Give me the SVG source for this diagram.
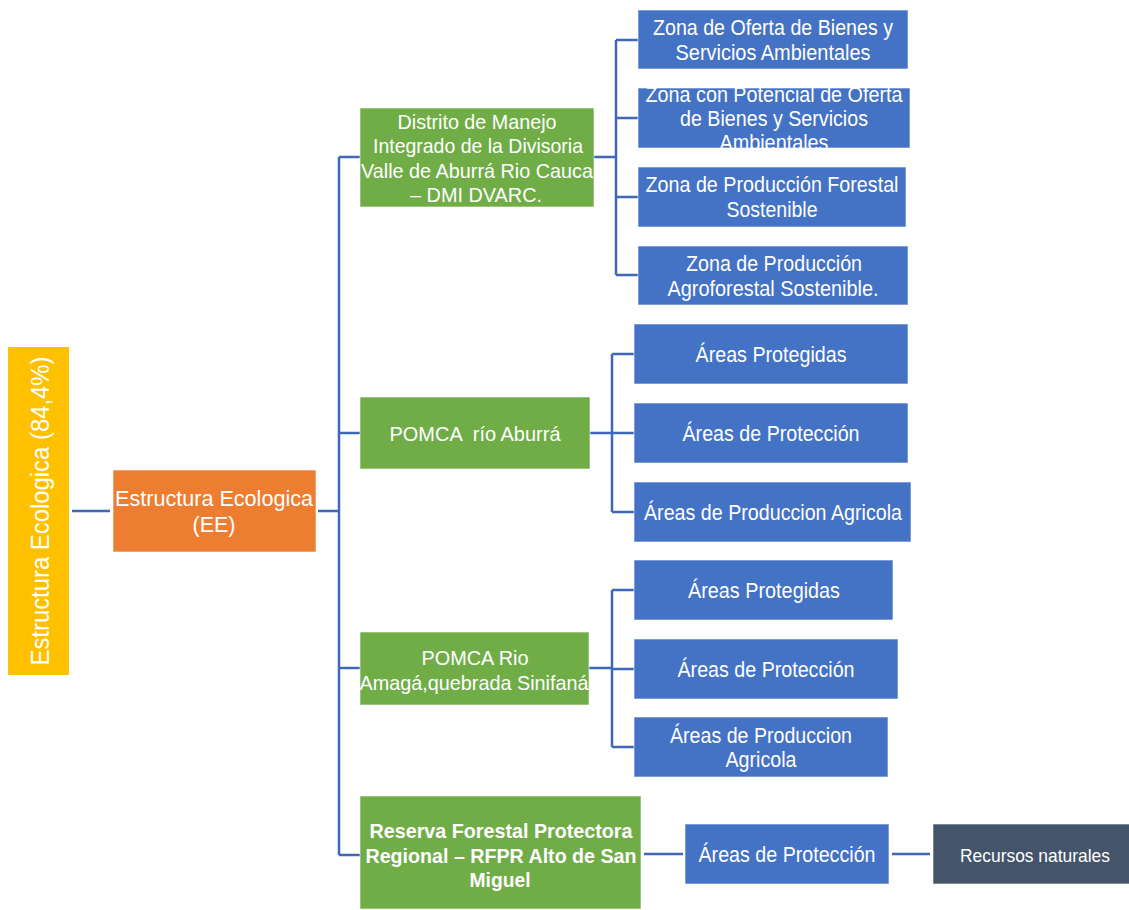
<svg xmlns="http://www.w3.org/2000/svg" width="1129" height="910" viewBox="0 0 1129 910">
  <style>
    .t { font-family: "Liberation Sans", Arial, sans-serif; fill: #ffffff; text-anchor: middle; dominant-baseline: central; }
    .s20 { font-size: 21px; }
    .s22 { font-size: 22px; }
    .b { font-weight: bold; }
    .box { stroke: #ffffff; stroke-opacity: 0.6; stroke-width: 1; }
    .yellow { fill: #FFC000; }
    .orange { fill: #ED7D31; }
    .green { fill: #70AD47; }
    .blue { fill: #4472C4; }
    .slate { fill: #44546A; }
    .link { fill: none; stroke: #4068B8; stroke-width: 2.5; }
  </style>
  <defs>
    <clipPath id="clip-zona-potencial">
      <rect x="638" y="88" width="272" height="60"/>
    </clipPath>
  </defs>
  <rect width="1129" height="910" fill="#ffffff"/>

  <!-- connectors -->
  <g id="connectors">
    <path class="link" d="M72 511 H110"/>
    <path class="link" d="M318 511 H339 M339 157 V855 M339 157 H360 M339 433 H360 M339 668 H360 M339 855 H360"/>
    <path class="link" d="M594 157 H616 M616 40 V275 M616 40 H638 M616 118 H638 M616 197 H638 M616 275 H638"/>
    <path class="link" d="M590 433 H612 M612 354 V512 M612 354 H634 M612 433 H634 M612 512 H634"/>
    <path class="link" d="M589 668 H612 M612 590 V747 M612 590 H634 M612 669 H634 M612 747 H634"/>
    <path class="link" d="M644 854 H683 M892 854 H930"/>
  </g>

  <!-- root -->
  <g id="node-root">
    <rect class="yellow" x="8" y="347" width="61" height="328"/>
    <text class="t" font-size="26" transform="translate(40 511) rotate(-90)" textLength="309" lengthAdjust="spacingAndGlyphs">Estructura Ecologica (84,4%)</text>
  </g>

  <g id="node-ee">
    <rect class="orange box" x="113" y="470" width="203" height="82"/>
    <text class="t s22" x="214" y="498" textLength="198" lengthAdjust="spacingAndGlyphs">Estructura Ecologica</text>
    <text class="t s22" x="214" y="524" textLength="43" lengthAdjust="spacingAndGlyphs">(EE)</text>
  </g>

  <!-- second level -->
  <g id="node-dmi">
    <rect class="green box" x="360" y="108" width="234" height="99"/>
    <text class="t s20" x="477" y="121" textLength="159" lengthAdjust="spacingAndGlyphs">Distrito de Manejo</text>
    <text class="t s20" x="478" y="145" textLength="210" lengthAdjust="spacingAndGlyphs">Integrado de la Divisoria</text>
    <text class="t s20" x="477" y="170" textLength="232" lengthAdjust="spacingAndGlyphs">Valle de Aburrá Rio Cauca</text>
    <text class="t s20" x="476" y="194" textLength="132" lengthAdjust="spacingAndGlyphs">– DMI DVARC.</text>
  </g>

  <g id="node-pomca-aburra">
    <rect class="green box" x="360" y="397" width="230" height="72"/>
    <text class="t s20" x="475" y="433" xml:space="preserve" textLength="171" lengthAdjust="spacingAndGlyphs">POMCA  río Aburrá</text>
  </g>

  <g id="node-pomca-amaga">
    <rect class="green box" x="360" y="632" width="229" height="73"/>
    <text class="t s20" x="475" y="657" textLength="107" lengthAdjust="spacingAndGlyphs">POMCA Rio</text>
    <text class="t s20" x="474" y="682" textLength="229" lengthAdjust="spacingAndGlyphs">Amagá,quebrada Sinifaná</text>
  </g>

  <g id="node-rfpr">
    <rect class="green box" x="360" y="796" width="281" height="113"/>
    <text class="t s20 b" x="501" y="830" textLength="263" lengthAdjust="spacingAndGlyphs">Reserva Forestal Protectora</text>
    <text class="t s20 b" x="501" y="855" textLength="271" lengthAdjust="spacingAndGlyphs">Regional – RFPR Alto de San</text>
    <text class="t s20 b" x="500" y="879" textLength="61" lengthAdjust="spacingAndGlyphs">Miguel</text>
  </g>

  <!-- DMI zones -->
  <g id="node-zona-oferta">
    <rect class="blue box" x="638" y="10" width="270" height="59"/>
    <text class="t s22" x="773" y="27" textLength="240" lengthAdjust="spacingAndGlyphs">Zona de Oferta de Bienes y</text>
    <text class="t s22" x="773" y="52" textLength="195" lengthAdjust="spacingAndGlyphs">Servicios Ambientales</text>
  </g>

  <g id="node-zona-potencial">
    <rect class="blue box" x="638" y="88" width="272" height="60"/>
    <g clip-path="url(#clip-zona-potencial)">
      <text class="t s22" x="774" y="94" textLength="257" lengthAdjust="spacingAndGlyphs">Zona con Potencial de Oferta</text>
      <text class="t s22" x="774" y="118" textLength="188" lengthAdjust="spacingAndGlyphs">de Bienes y Servicios</text>
      <text class="t s22" x="774" y="142" textLength="109" lengthAdjust="spacingAndGlyphs">Ambientales</text>
    </g>
  </g>

  <g id="node-zona-forestal">
    <rect class="blue box" x="638" y="167" width="268" height="60"/>
    <text class="t s22" x="772" y="184" textLength="253" lengthAdjust="spacingAndGlyphs">Zona de Producción Forestal</text>
    <text class="t s22" x="772" y="209" textLength="91" lengthAdjust="spacingAndGlyphs">Sostenible</text>
  </g>

  <g id="node-zona-agroforestal">
    <rect class="blue box" x="638" y="246" width="270" height="59"/>
    <text class="t s22" x="774" y="263" textLength="176" lengthAdjust="spacingAndGlyphs">Zona de Producción</text>
    <text class="t s22" x="773" y="288" textLength="211" lengthAdjust="spacingAndGlyphs">Agroforestal Sostenible.</text>
  </g>

  <!-- POMCA río Aburrá areas -->
  <g id="node-aburra-protegidas">
    <rect class="blue box" x="634" y="324" width="274" height="60"/>
    <text class="t s22" x="771" y="354" textLength="151" lengthAdjust="spacingAndGlyphs">Áreas Protegidas</text>
  </g>
  <g id="node-aburra-proteccion">
    <rect class="blue box" x="634" y="403" width="274" height="60"/>
    <text class="t s22" x="771" y="433" textLength="177" lengthAdjust="spacingAndGlyphs">Áreas de Protección</text>
  </g>
  <g id="node-aburra-agricola">
    <rect class="blue box" x="634" y="482" width="277" height="60"/>
    <text class="t s22" x="773" y="512" textLength="258" lengthAdjust="spacingAndGlyphs">Áreas de Produccion Agricola</text>
  </g>

  <!-- POMCA Amagá areas -->
  <g id="node-amaga-protegidas">
    <rect class="blue box" x="634" y="560" width="259" height="60"/>
    <text class="t s22" x="764" y="590" textLength="152" lengthAdjust="spacingAndGlyphs">Áreas Protegidas</text>
  </g>
  <g id="node-amaga-proteccion">
    <rect class="blue box" x="634" y="639" width="264" height="60"/>
    <text class="t s22" x="766" y="669" textLength="177" lengthAdjust="spacingAndGlyphs">Áreas de Protección</text>
  </g>
  <g id="node-amaga-agricola">
    <rect class="blue box" x="634" y="717" width="254" height="60"/>
    <text class="t s22" x="761" y="735" textLength="182" lengthAdjust="spacingAndGlyphs">Áreas de Produccion</text>
    <text class="t s22" x="761" y="759" textLength="71" lengthAdjust="spacingAndGlyphs">Agricola</text>
  </g>

  <!-- RFPR areas -->
  <g id="node-rfpr-proteccion">
    <rect class="blue box" x="685" y="824" width="204" height="60"/>
    <text class="t s22" x="787" y="854" textLength="177" lengthAdjust="spacingAndGlyphs">Áreas de Protección</text>
  </g>
  <g id="node-recursos">
    <rect class="slate box" x="933" y="824" width="200" height="60"/>
    <text class="t" font-size="19" x="1035" y="855" textLength="150" lengthAdjust="spacingAndGlyphs">Recursos naturales</text>
  </g>
</svg>
